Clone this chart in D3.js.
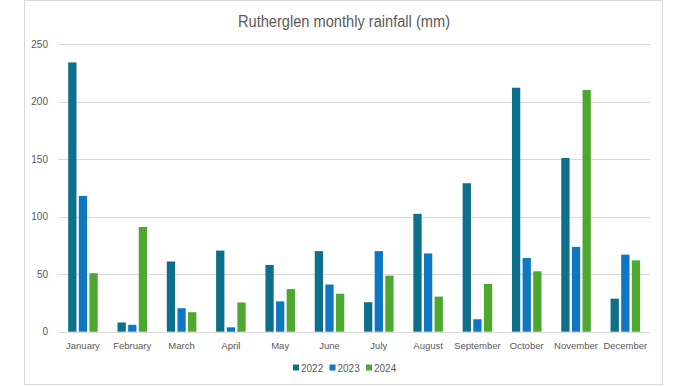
<!DOCTYPE html>
<html>
<head>
<meta charset="utf-8">
<script src="https://cdn.jsdelivr.net/npm/d3@7"></script>
<style>
  body { margin: 0; background: #fff; }
  text { font-family: "Liberation Sans", Arial, sans-serif; fill: #595959; }
</style>
</head>
<body>
<div id="chart"></div>
<script>
const months = ["January", "February", "March", "April", "May", "June",
    "July", "August", "September", "October", "November", "December"];
const years = ["2022", "2023", "2024"];
const rain2022 = [234, 8, 61, 70.5, 58, 70, 25.6, 102.4, 129, 212, 151, 28.7];
const rain2023 = [118, 6, 20.4, 3.8, 26.4, 41, 70, 68, 10.8, 64, 73.7, 67];
const rain2024 = [50.8, 91, 16.9, 25.4, 37, 33, 48.7, 30.5, 41.5, 52.5, 210, 62];
const yTicks = [0, 50, 100, 150, 200, 250];

const colors = { "2022": "#0e6f8b", "2023": "#0f77c1", "2024": "#4ea72e" };

const width = 687, height = 386;
const margin = { top: 44, right: 37, bottom: 54.3, left: 58.3 };

// 行数据
const data = months.map((m, i) => ({
    month: m,
    "2022": rain2022[i],
    "2023": rain2023[i],
    "2024": rain2024[i]
}));

const svg = d3.select("#chart")
    .append("svg")
    .attr("width", width)
    .attr("height", height);

// 外框
svg.append("rect")
    .attr("x", 24.5)
    .attr("y", 0.5)
    .attr("width", 638)
    .attr("height", 384)
    .attr("fill", "#fff")
    .attr("stroke", "#d9d9d9");

const x = d3.scaleBand()
    .domain(months)
    .range([margin.left, width - margin.right]);

const xSub = d3.scaleBand()
    .domain(years)
    .range([0, x.bandwidth()])
    .paddingInner(0.22)
    .paddingOuter(0.93);

const y = d3.scaleLinear()
    .domain([0, 250])
    .range([height - margin.bottom, margin.top]);

// 网格线
svg.append("g")
    .selectAll("line")
    .data(yTicks)
    .join("line")
    .attr("x1", margin.left)
    .attr("x2", width - margin.right)
    .attr("y1", d => Math.round(y(d)) + 0.5)
    .attr("y2", d => Math.round(y(d)) + 0.5)
    .attr("stroke", "#d9d9d9")
    .attr("stroke-width", 1);

// y轴标签
svg.append("g")
    .selectAll("text")
    .data(yTicks)
    .join("text")
    .attr("x", 48)
    .attr("y", d => y(d) + 3.5)
    .attr("text-anchor", "end")
    .style("font-size", "10px")
    .text(d => d);

// 柱子
svg.append("g")
    .selectAll("g")
    .data(data)
    .join("g")
    .attr("transform", d => `translate(${x(d.month)},0)`)
    .selectAll("rect")
    .data(d => years.map(k => ({ key: k, value: d[k] })))
    .join("rect")
    .attr("x", d => xSub(d.key))
    .attr("y", d => y(d.value))
    .attr("width", xSub.bandwidth())
    .attr("height", d => y(0) - y(d.value))
    .attr("fill", d => colors[d.key]);

// 月份标签
svg.append("g")
    .selectAll("text")
    .data(months)
    .join("text")
    .attr("x", d => x(d) + x.bandwidth() / 2)
    .attr("y", 348.5)
    .attr("text-anchor", "middle")
    .style("font-size", "9.5px")
    .text(d => d);

// 标题（窄字体用textLength压缩）
svg.append("text")
    .attr("x", 344)
    .attr("y", 26.5)
    .attr("text-anchor", "middle")
    .attr("textLength", 212)
    .attr("lengthAdjust", "spacingAndGlyphs")
    .style("font-size", "16px")
    .text("Rutherglen monthly rainfall (mm)");

// 图例
const legend = svg.append("g")
    .attr("transform", "translate(293,368)");

const legendItems = legend.selectAll("g")
    .data(years)
    .join("g")
    .attr("transform", (d, i) => `translate(${i * 36.5},0)`);

legendItems.append("rect")
    .attr("x", 0)
    .attr("y", -3.5)
    .attr("width", 6)
    .attr("height", 6)
    .attr("fill", d => colors[d]);

legendItems.append("text")
    .attr("x", 8)
    .attr("y", 3.5)
    .style("font-size", "10px")
    .text(d => d);
</script>
</body>
</html>
